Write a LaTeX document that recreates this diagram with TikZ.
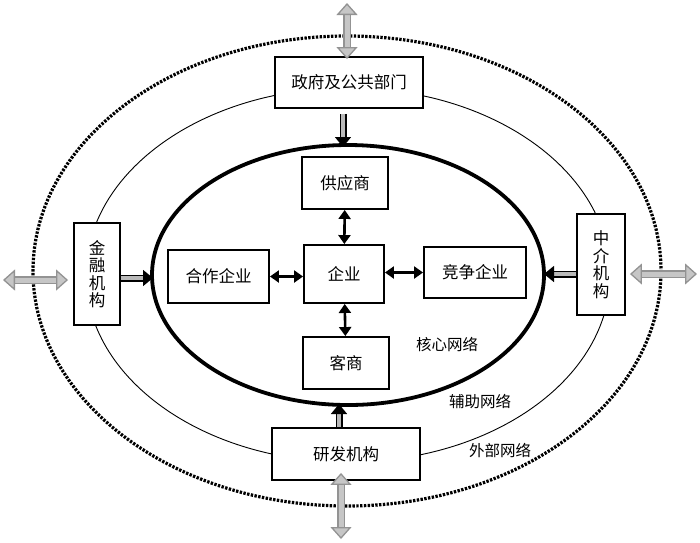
\documentclass[tikz,border=0pt]{standalone}
\usepackage{fontspec}
\newfontfamily\cjk{Noto Sans CJK SC}
\usetikzlibrary{arrows.meta}
\begin{document}
\begin{tikzpicture}[x=1pt,y=-1pt,
  box/.style={draw,line width=1.9pt,fill=white,inner sep=0pt,font=\cjk\fontsize{16.5}{18}\selectfont},
  vbox/.style={box,align=center,font=\cjk\fontsize{16.5}{17.5}\selectfont},
  lbl/.style={font=\cjk\fontsize{15.5}{17}\selectfont,inner sep=0pt},
  corearrow/.style={line width=2.6pt,{Triangle[length=9pt,width=12pt]}-{Triangle[length=9pt,width=12pt]}},
  inarrow/.style={draw=black,line width=1.5pt,double=gray!55,double distance=4pt,-{Triangle[length=10pt,width=16pt]}},
  outarrow/.style={draw=gray!85,line width=1.3pt,double=gray!45,double distance=5pt,
     {Triangle[length=12pt,width=21pt,fill=gray!45]}-{Triangle[length=12pt,width=21pt,fill=gray!45]}}]
\useasboundingbox (0,0) rectangle (700,542);
% ellipses
\draw[line width=3.2pt,dash pattern=on 2.4pt off 1.4pt] (347,271) ellipse [x radius=314,y radius=235];
\draw[line width=0.9pt] (348,275) ellipse [x radius=262,y radius=187];
\draw[line width=3.8pt] (348,275) ellipse [x radius=196,y radius=130];
% boxes
\node[box,minimum width=148pt,minimum height=51pt] (gov) at (349,82.5) {政府及公共部门};
\node[box,minimum width=86pt,minimum height=52pt] (sup) at (345,183) {供应商};
\node[box,minimum width=80pt,minimum height=58pt] (ent) at (344,274) {企业};
\node[box,minimum width=101pt,minimum height=53pt] (coop) at (218.5,276.5) {合作企业};
\node[box,minimum width=102pt,minimum height=51pt] (comp) at (475,272.5) {竞争企业};
\node[box,minimum width=86pt,minimum height=52pt] (cust) at (346,363) {客商};
\node[vbox,minimum width=46pt,minimum height=102pt] (fin) at (97,274) {金\\融\\机\\构};
\node[vbox,minimum width=48pt,minimum height=101pt] (med) at (601,264.5) {中\\介\\机\\构};
\node[box,minimum width=148pt,minimum height=52pt] (rd) at (346,454) {研发机构};
% labels
\node[lbl] (l1) at (447,345) {核心网络};
\node[lbl] (l2) at (480,402) {辅助网络};
\node[lbl] (l3) at (500,450) {外部网络};
% core arrows
\draw[corearrow] (sup) -- (ent);
\draw[corearrow] (ent) -- (cust);
\draw[corearrow] (coop.east) -- (coop.east -| ent.west);
\draw[corearrow] (ent.east |- comp.west) -- (comp.west);
% touch points on core ellipse
\coordinate (cN) at (343,147);
\coordinate (cS) at (339,404);
\coordinate (cW) at (153,278);
\coordinate (cE) at (544,274);
\draw[inarrow] (gov.south -| cN) ++(0,5) -- (cN);
\draw[inarrow] (rd.north -| cS) -- (cS);
\draw[inarrow] (fin.east |- cW) -- (cW);
\draw[inarrow] (med.west |- cE) -- (cE);
% outer arrows
\coordinate (oN) at (347,3);
\coordinate (oS) at (341,539);
\coordinate (oW) at (3,280);
\coordinate (oE) at (697,274);
\draw[outarrow] (oN) -- ([yshift=-3pt]gov.north -| oN);
\draw[outarrow] ([yshift=8pt]rd.south -| oS) -- (oS);
\draw[outarrow] (oW) -- ([xshift=-5pt]fin.west |- oW);
\draw[outarrow] ([xshift=4pt]med.east |- oE) -- (oE);
\end{tikzpicture}
\end{document}
